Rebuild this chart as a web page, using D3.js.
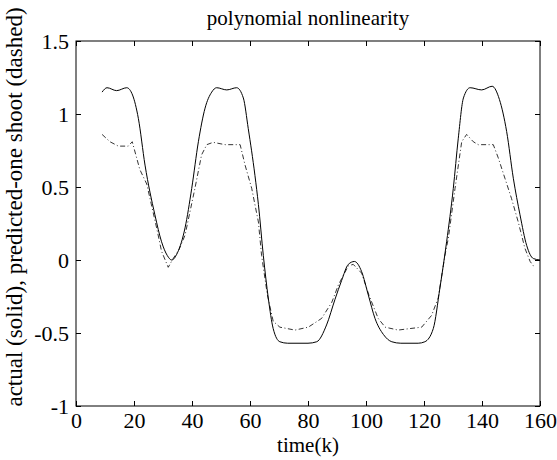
<!DOCTYPE html>
<html>
<head>
<meta charset="utf-8">
<script src="https://cdn.jsdelivr.net/npm/d3@7"></script>
<style>
  body { margin: 0; background: #fff; }
  svg text { font-family: "Liberation Serif", "Times New Roman", Times, Tinos, "Nimbus Roman", "Nimbus Roman No9 L", FreeSerif, "DejaVu Serif", "Noto Serif", serif !important; }
</style>
</head>
<body>
<script>
// actual output (solid line)
let timeActual = [9, 10.7, 14, 17.5, 19.5, 21.5, 23.8, 27.2, 29.5, 31.5, 33, 35, 37.6, 39.9, 42.2, 44.5, 46.8, 48.5, 52, 55.4,
  57.7, 59.4, 61.7, 62.9, 64.6, 66.3, 68, 70.3, 73, 80, 83, 86.4, 89.3, 91.6, 93.9, 96, 98.5, 100.8, 103.1, 106,
  108.9, 112, 118, 120.3, 123.2, 125.5, 127.8, 130.1, 131.8, 133.6, 135.9, 139.9, 143.5, 146, 148.5, 150.8, 153.1, 155.4, 157.7, 160];
let actual = [1.15, 1.18, 1.16, 1.18, 1.13, 0.97, 0.65, 0.31, 0.125, 0.03, 0.0, 0.05, 0.22, 0.49, 0.81, 1.04, 1.15, 1.18, 1.165, 1.18,
  1.11, 0.9, 0.58, 0.38, 0.03, -0.26, -0.47, -0.56, -0.57, -0.57, -0.56, -0.445, -0.27, -0.14, -0.03, -0.01, -0.08, -0.24, -0.4, -0.51,
  -0.56, -0.57, -0.57, -0.56, -0.47, -0.19, 0.125, 0.49, 0.83, 1.11, 1.18, 1.165, 1.19, 1.1, 0.88, 0.56, 0.31, 0.10, 0.01, 0.0];

// one step ahead prediction (dash-dot line)
let timePred = [9, 11.7, 14.6, 18, 19.4, 22, 24.4, 27.8, 29.5, 31.8, 33.5, 35.5, 37.6, 41, 43.3, 45.1, 47.3, 51.4, 56.6, 58.3,
  60.6, 62.9, 64, 66, 68, 70.3, 75.5, 80.1, 84.7, 88.2, 90.5, 93.9, 95.6, 98.5, 101, 104.2, 106.6, 111.1, 115, 119.2,
  122.6, 124.9, 127.2, 128.4, 130.7, 133, 134.7, 137, 138.7, 143.9, 145.6, 147.9, 150.2, 152.5, 154.8, 156.6, 157.7, 158.5];
let predicted = [0.86, 0.81, 0.78, 0.78, 0.81, 0.62, 0.52, 0.22, 0.06, -0.05, 0.01, 0.07, 0.17, 0.49, 0.72, 0.79, 0.806, 0.79, 0.79, 0.65,
  0.49, 0.26, 0.03, -0.24, -0.42, -0.46, -0.48, -0.46, -0.40, -0.29, -0.17, -0.04, -0.03, -0.09, -0.24, -0.40, -0.46, -0.48, -0.47, -0.46,
  -0.38, -0.26, 0.03, 0.15, 0.49, 0.81, 0.86, 0.81, 0.79, 0.79, 0.70, 0.56, 0.42, 0.26, 0.08, -0.01, -0.04, -0.05];

let xTicks = [0, 20, 40, 60, 80, 100, 120, 140, 160];
let yTicks = [-1, -0.5, 0, 0.5, 1, 1.5];

let W = 557, H = 460;
let m = {left: 76, right: 17, top: 41, bottom: 54};

let svg = d3.select("body").append("svg").attr("width", W).attr("height", H);

let x = d3.scaleLinear().domain([0, 160]).range([m.left, W - m.right]);
let y = d3.scaleLinear().domain([-1, 1.5]).range([H - m.bottom, m.top]);

// ticks inside, on all four sides
let tl = 5;
let axes = [];
axes.push(svg.append("g").attr("transform", `translate(0,${y(-1)})`)
  .call(d3.axisBottom(x).tickValues(xTicks).tickSizeInner(-tl).tickSizeOuter(0).tickPadding(6).tickFormat(d3.format("d"))));
axes.push(svg.append("g").attr("transform", `translate(0,${y(1.5)})`)
  .call(d3.axisTop(x).tickValues(xTicks).tickSizeInner(-tl).tickSizeOuter(0).tickFormat("")));
axes.push(svg.append("g").attr("transform", `translate(${x(0)},0)`)
  .call(d3.axisLeft(y).tickValues(yTicks).tickSizeInner(-tl).tickSizeOuter(0).tickPadding(7).tickFormat(d => String(d))));
axes.push(svg.append("g").attr("transform", `translate(${x(160)},0)`)
  .call(d3.axisRight(y).tickValues(yTicks).tickSizeInner(-tl).tickSizeOuter(0).tickFormat("")));

axes.forEach(g => g.attr("font-size", 22));
svg.selectAll(".domain").remove();
svg.selectAll(".tick line").attr("stroke", "#000");
svg.selectAll(".tick text").attr("fill", "#000");

svg.append("rect")
  .attr("x", x(0)).attr("y", y(1.5))
  .attr("width", x(160) - x(0)).attr("height", y(-1) - y(1.5))
  .attr("fill", "none").attr("stroke", "#000").attr("stroke-width", 1);

let lineA = d3.line().x((d, i) => x(timeActual[i])).y(d => y(d)).curve(d3.curveMonotoneX);
let lineP = d3.line().x((d, i) => x(timePred[i])).y(d => y(d));

svg.append("path").datum(actual).attr("d", lineA)
  .attr("fill", "none").attr("stroke", "#000").attr("stroke-width", 1);
svg.append("path").datum(predicted).attr("d", lineP)
  .attr("fill", "none").attr("stroke", "#000").attr("stroke-width", 0.8)
  .attr("stroke-dasharray", "5,2.5,1,2.5");

svg.append("text").attr("x", (x(0) + x(160)) / 2).attr("y", 25)
  .attr("text-anchor", "middle").attr("font-size", 21).text("polynomial nonlinearity");
svg.append("text").attr("x", (x(0) + x(160)) / 2).attr("y", 452)
  .attr("text-anchor", "middle").attr("font-size", 21).text("time(k)");
svg.append("text").attr("transform", "translate(22,207) rotate(-90)")
  .attr("text-anchor", "middle").attr("font-size", 23).text("actual (solid), predicted-one shoot (dashed)");
</script>
</body>
</html>
